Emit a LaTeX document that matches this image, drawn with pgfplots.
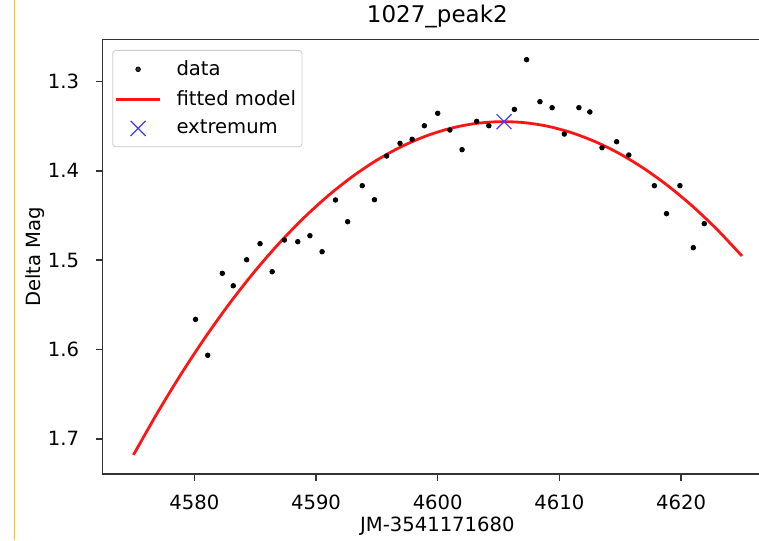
\documentclass[border=0pt]{standalone}
\usepackage{fontspec}
\setmainfont{DejaVu Sans}
\usepackage{pgfplots}
\pgfplotsset{compat=1.18}
\begin{document}
\fontsize{9.8}{11.8}\selectfont
\begin{tikzpicture}[x=1pt,y=1pt]
\useasboundingbox (0,0) rectangle (379.5,270);
\fill[white] (0,0) rectangle (379.5,270);
\draw[color={rgb,255:red,255;green,196;blue,0}, line width=0.8pt] (7.3,0) -- (7.3,270);
\begin{axis}[
  at={(51.15pt,32.9pt)}, anchor=south west,
  scale only axis, width=335.05pt, height=217.35pt,
  xmin=4572.44, xmax=4627.5, ymin=1.2531, ymax=1.7396,
  y dir=reverse,
  axis line style={black!80, line width=0.75pt},
  xtick={4580,4590,4600,4610,4620}, ytick={1.3,1.4,1.5,1.6,1.7},
  tick align=outside, major tick length=3.3pt, tick pos=left,
  tick style={black!80, line width=0.75pt},
  /pgf/number format/assume math mode=true,
  xticklabel style={anchor=base, yshift=-14.5pt, inner sep=0pt, /pgf/number format/1000 sep={}},
  yticklabel style={anchor=east, xshift=-8.15pt, inner sep=0pt, /pgf/number format/.cd, fixed, fixed zerofill, precision=1},
  every axis title shift=0pt,
  title={1027\_peak2},
  title style={at={(axis description cs:0.5,1)}, anchor=base, yshift=8.5pt, inner sep=0pt, font=\fontsize{11.5}{14}\selectfont},
  xlabel={JM-3541171680},
  xlabel style={at={([yshift=-28.4pt]axis description cs:0.5,0)}, anchor=base, inner sep=0pt},
  ylabel={Delta Mag},
  ylabel style={at={([xshift=-33.4pt]axis description cs:0,0.5)}, anchor=center, inner sep=0pt},
  legend style={at={([xshift=5pt,yshift=-5.25pt]axis description cs:0,1)}, anchor=north west,
    draw=black!20, rounded corners=1.5pt, fill=white, fill opacity=0.8, text opacity=1,
    inner xsep=1pt, inner ysep=3pt, font=\fontsize{9.8}{11.8}\selectfont,
    row sep=2pt,
    /tikz/every odd column/.append style={column sep=5.5pt}},
  legend cell align=left,
  legend image code/.code={\draw[mark repeat=2,mark phase=2,#1] plot coordinates {(0pt,0pt) (11pt,0pt) (22pt,0pt)};},
]
\addplot[only marks, mark=*, mark size=1.15pt, black] coordinates {
(4580.1,1.5663) (4581.1,1.6065) (4582.3,1.5148) (4583.2,1.5287) (4584.3,1.4996)
(4585.4,1.4816) (4586.4,1.5130) (4587.4,1.4775) (4588.5,1.4794) (4589.5,1.4727)
(4590.5,1.4906) (4591.6,1.4327) (4592.6,1.4570) (4593.8,1.4167) (4594.8,1.4324)
(4595.8,1.3835) (4596.9,1.3693) (4597.9,1.3648) (4598.9,1.3496) (4600.0,1.3357)
(4601.0,1.3544) (4602.0,1.3764) (4603.2,1.3447) (4604.2,1.3496) (4606.3,1.3313)
(4607.3,1.2757) (4608.4,1.3227) (4609.4,1.3294) (4610.4,1.3589) (4611.6,1.3294)
(4612.5,1.3342) (4613.5,1.3742) (4614.7,1.3675) (4615.7,1.3824) (4617.8,1.4167)
(4618.8,1.4480) (4619.9,1.4167) (4621.0,1.4861) (4621.9,1.4592)
};
\addlegendentry{data}
\addplot[color={rgb,255:red,255;green,20;blue,20}, line width=1.4pt, no marks, smooth] coordinates {
(4575,1.7180) (4577,1.6702) (4579,1.6257) (4581,1.5845) (4583,1.5466)
(4585,1.5120) (4587,1.4807) (4589,1.4527) (4591,1.4279) (4593,1.4064)
(4595,1.3881) (4597,1.3731) (4599,1.3613) (4601,1.3527) (4603,1.3473)
(4605,1.3451) (4607,1.3460) (4609,1.3501) (4611,1.3574) (4613,1.3678)
(4615,1.3813) (4617,1.3980) (4619,1.4177) (4621,1.4405) (4623,1.4664)
(4625,1.4954)
};
\addlegendentry{fitted model}
\addplot[only marks, mark=x, mark size=5.3pt, color={rgb,255:red,60;green,60;blue,255}, line width=0.6pt] coordinates {(4605.45,1.3451)};
\addlegendentry{extremum}
\end{axis}
\end{tikzpicture}
\end{document}
